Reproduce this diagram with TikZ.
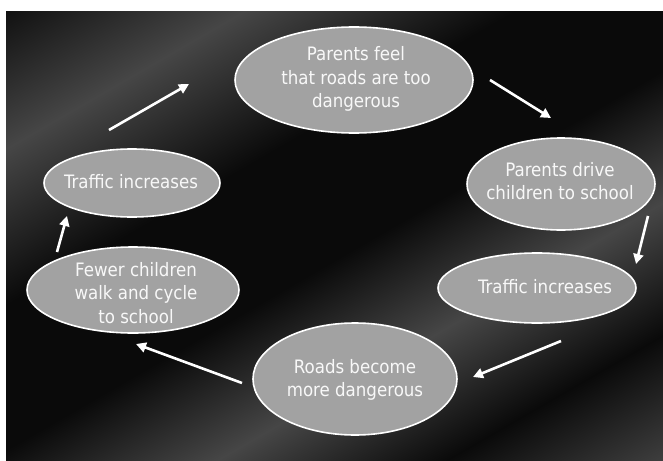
\documentclass[tikz,border=0pt]{standalone}
\usepackage{fontspec}
\setmainfont{DejaVu Sans Condensed}
\usetikzlibrary{shapes.geometric,arrows.meta}
\definecolor{bgd}{HTML}{0A0A0A}
\definecolor{bgl}{HTML}{464646}
\definecolor{ovalfill}{HTML}{A2A2A2}
\definecolor{txt}{HTML}{F8F8F8}
\pgfdeclarehorizontalshading{streaks}{100bp}{color(0bp)=(bgl); color(14bp)=(bgd); color(27bp)=(bgl); color(40bp)=(bgd); color(52bp)=(bgd); color(63bp)=(bgl); color(74bp)=(bgd); color(86bp)=(bgl); color(100bp)=(bgd)}
\tikzset{
  oval/.style={ellipse, draw=white, line width=1.6pt, fill=ovalfill, inner sep=0pt},
  ovaltext/.style={text=txt, align=center, inner sep=0pt, font=\fontsize{18.5}{23.5}\selectfont},
  flow/.style={draw=white, line width=2.6pt, -{Triangle[length=10pt,width=10pt]}}
}
\begin{document}
\begin{tikzpicture}[x=1pt,y=-1pt]
\useasboundingbox (0,0) rectangle (663,460);
\fill[white] (0,0) rectangle (663,460);
\shade[shading=streaks, shading angle=-60] (6,12) rectangle (663,460);

\node[oval, minimum width=238pt, minimum height=106pt] (feel) at (354,80) {};
\node[ovaltext] (feelt) at (356,79) {Parents feel\\that roads are too\\dangerous};
\node[oval, minimum width=188pt, minimum height=92pt] (drive) at (561,184) {};
\node[ovaltext] (drivet) at (560,181) {Parents drive\\children to school};
\node[oval, minimum width=198pt, minimum height=70pt] (trafR) at (537,288) {};
\node[ovaltext] (trafRt) at (545,287) {Traffic increases};
\node[oval, minimum width=204pt, minimum height=112pt] (roads) at (355,379) {};
\node[ovaltext] (roadst) at (355,380) {Roads become\\more dangerous};
\node[oval, minimum width=212pt, minimum height=86pt] (fewer) at (133,290) {};
\node[ovaltext] (fewert) at (136,293) {Fewer children\\walk and cycle\\to school};
\node[oval, minimum width=176pt, minimum height=68pt] (trafL) at (132,183) {};
\node[ovaltext] (trafLt) at (131,182) {Traffic increases};

\coordinate (a1s) at (109,130); \coordinate (a1e) at (189,84);
\coordinate (a2s) at (490,80);  \coordinate (a2e) at (551,118);
\coordinate (a3s) at (648,216); \coordinate (a3e) at (636,264);
\coordinate (a4s) at (561,341); \coordinate (a4e) at (473,377);
\coordinate (a5s) at (242,383); \coordinate (a5e) at (136,344);
\coordinate (a6s) at (57,252);  \coordinate (a6e) at (67,216);

\draw[flow] (a1s) -- (a1e);
\draw[flow] (a2s) -- (a2e);
\draw[flow] (a3s) -- (a3e);
\draw[flow] (a4s) -- (a4e);
\draw[flow] (a5s) -- (a5e);
\draw[flow] (a6s) -- (a6e);
\end{tikzpicture}
\end{document}
